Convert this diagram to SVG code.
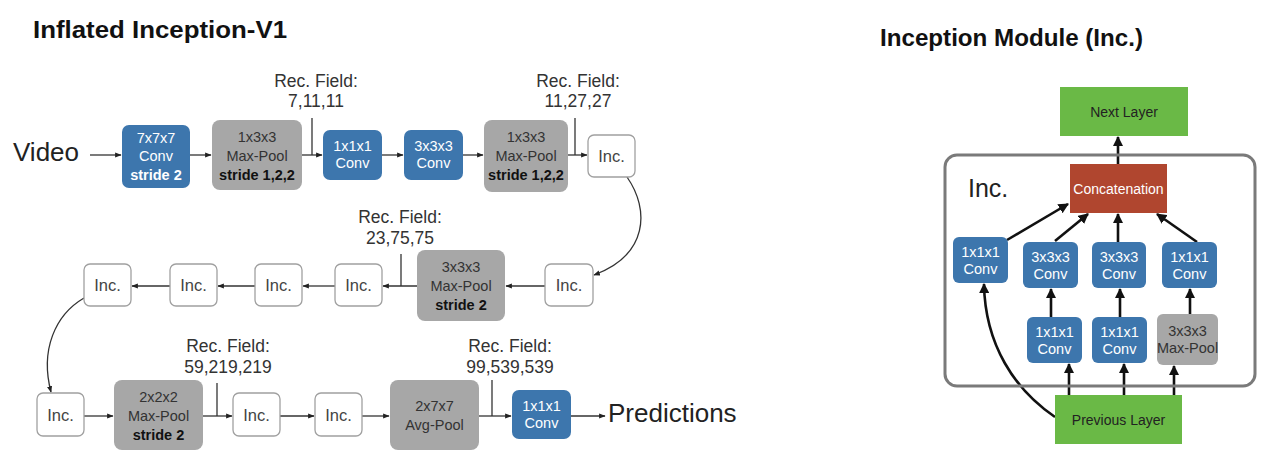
<svg xmlns="http://www.w3.org/2000/svg" width="1268" height="459" viewBox="0 0 1268 459">
<defs>
<marker id="ah" viewBox="0 0 10 10" refX="9" refY="5" markerWidth="5" markerHeight="5" orient="auto"><path d="M0,1 L10,5 L0,9 z" fill="#222"/></marker>
<marker id="ahb" viewBox="0 0 10 10" refX="9" refY="5" markerWidth="4" markerHeight="4" orient="auto"><path d="M0,0 L10,5 L0,10 z" fill="#111"/></marker>
<style>
.t{font-family:"Liberation Sans",Arial,sans-serif}
.conv{fill:#3d76ad}
.pool{fill:#a7a7a7}
.inc{fill:#fff;stroke:#a0a0a0;stroke-width:1.3}
.w{fill:#fff;font-size:14.5px}
.g{fill:#333;font-size:14.5px}
.b{fill:#111;font-size:14.5px;font-weight:bold}
.wb{fill:#fff;font-size:14.5px;font-weight:bold}
.i{fill:#444;font-size:16.5px}
.rf{fill:#333;font-size:17.5px}
.ln{stroke:#333;stroke-width:1.3;fill:none}
.ar{stroke:#333;stroke-width:1.3;fill:none;marker-end:url(#ah)}
.ab{stroke:#111;stroke-width:2.6;fill:none;marker-end:url(#ahb)}
.green{fill:#6ab946}
</style>
</defs>
<rect width="1268" height="459" fill="#fff"/>
<text class="t" x="33" y="38" font-size="24" font-weight="bold" fill="#111" textLength="254" lengthAdjust="spacingAndGlyphs">Inflated Inception-V1</text>
<text class="t" x="880" y="46" font-size="24" font-weight="bold" fill="#111" textLength="263" lengthAdjust="spacingAndGlyphs">Inception Module (Inc.)</text>

<!-- labels -->
<text class="t" x="13" y="161" font-size="26" fill="#222">Video</text>
<text class="t" x="608" y="422" font-size="26" fill="#222">Predictions</text>
<g class="t rf" text-anchor="middle">
<text x="316" y="87">Rec. Field:</text><text x="316" y="107">7,11,11</text>
<text x="578" y="87">Rec. Field:</text><text x="578" y="107">11,27,27</text>
<text x="400" y="223">Rec. Field:</text><text x="400" y="244">23,75,75</text>
<text x="228" y="352">Rec. Field:</text><text x="228" y="373">59,219,219</text>
<text x="510" y="352">Rec. Field:</text><text x="510" y="373">99,539,539</text>
</g>

<!-- connectors -->
<g id="connectors">
<path class="ar" d="M90,155 H121"/>
<path class="ar" d="M190,155 H211"/>
<path class="ar" d="M302,155 H322"/>
<path class="ln" d="M312,118 V155"/>
<path class="ar" d="M382,155 H403"/>
<path class="ar" d="M463,155 H483"/>
<path class="ar" d="M568,155 H587"/>
<path class="ln" d="M575,118 V155"/>
<path class="ar" d="M627,177 C650,210 648,255 594,275"/>
<path class="ar" d="M545,286 H506"/>
<path class="ar" d="M417,286 H383"/>
<path class="ln" d="M401,254 V286"/>
<path class="ar" d="M335,286 H303"/>
<path class="ar" d="M255,286 H218"/>
<path class="ar" d="M170,286 H132"/>
<path class="ar" d="M84,298 C55,315 40,350 51,392"/>
<path class="ar" d="M84,416 H113"/>
<path class="ar" d="M203,416 H232"/>
<path class="ln" d="M217,383 V416"/>
<path class="ar" d="M280,416 H314"/>
<path class="ar" d="M362,416 H389"/>
<path class="ar" d="M479,416 H511"/>
<path class="ln" d="M492,380 V416"/>
<path class="ar" d="M571,416 H605"/>
<!-- inception module -->
<path class="ab" d="M1118,164 V137"/>
<path class="ab" d="M1007,240 L1068,204"/>
<path class="ab" d="M1055,241 L1088,214"/>
<path class="ab" d="M1118,242 V214"/>
<path class="ab" d="M1197,242 L1157,214"/>
<path class="ab" d="M1051,317 V289"/>
<path class="ab" d="M1120,317 V289"/>
<path class="ab" d="M1190,314 V289"/>
<path class="ab" d="M1069,395 V364"/>
<path class="ab" d="M1124,395 V364"/>
<path class="ab" d="M1174,395 V366"/>
<path class="ab" d="M1055,417 C1015,390 985,345 984,284"/>
</g>

<!-- row 1 -->
<g id="conv7" class="t" text-anchor="middle"><rect class="conv" x="122" y="125" width="68" height="63" rx="7"/><text class="w" x="156" y="143">7x7x7</text><text class="w" x="156" y="161">Conv</text><text class="wb" x="156" y="180">stride 2</text></g>
<g id="pool1" class="t" text-anchor="middle"><rect class="pool" x="212" y="120" width="90" height="70" rx="8"/><text class="g" x="257" y="142">1x3x3</text><text class="g" x="257" y="161">Max-Pool</text><text class="b" x="257" y="180">stride 1,2,2</text></g>
<g id="conv1a" class="t" text-anchor="middle"><rect class="conv" x="323" y="130" width="59" height="50" rx="7"/><text class="w" x="352.5" y="151">1x1x1</text><text class="w" x="352.5" y="168">Conv</text></g>
<g id="conv3a" class="t" text-anchor="middle"><rect class="conv" x="404" y="130" width="59" height="50" rx="7"/><text class="w" x="433.5" y="151">3x3x3</text><text class="w" x="433.5" y="168">Conv</text></g>
<g id="pool2" class="t" text-anchor="middle"><rect class="pool" x="484" y="120" width="84" height="72" rx="8"/><text class="g" x="526" y="142">1x3x3</text><text class="g" x="526" y="161">Max-Pool</text><text class="b" x="526" y="180">stride 1,2,2</text></g>
<g id="inc1" class="t" text-anchor="middle"><rect class="inc" x="588" y="135" width="47" height="42" rx="6"/><text class="i" x="611.5" y="162">Inc.</text></g>

<!-- row 2 -->
<g id="inc2" class="t" text-anchor="middle"><rect class="inc" x="545" y="264" width="48" height="42" rx="6"/><text class="i" x="569" y="291">Inc.</text></g>
<g id="pool3" class="t" text-anchor="middle"><rect class="pool" x="417" y="250" width="88" height="71" rx="8"/><text class="g" x="461" y="272">3x3x3</text><text class="g" x="461" y="291">Max-Pool</text><text class="b" x="461" y="310">stride 2</text></g>
<g id="inc3" class="t" text-anchor="middle"><rect class="inc" x="335" y="264" width="47" height="42" rx="6"/><text class="i" x="358.5" y="291">Inc.</text></g>
<g id="inc4" class="t" text-anchor="middle"><rect class="inc" x="255" y="264" width="47" height="42" rx="6"/><text class="i" x="278.5" y="291">Inc.</text></g>
<g id="inc5" class="t" text-anchor="middle"><rect class="inc" x="170" y="264" width="47" height="42" rx="6"/><text class="i" x="193.5" y="291">Inc.</text></g>
<g id="inc6" class="t" text-anchor="middle"><rect class="inc" x="84" y="264" width="47" height="42" rx="6"/><text class="i" x="107.5" y="291">Inc.</text></g>

<!-- row 3 -->
<g id="inc7" class="t" text-anchor="middle"><rect class="inc" x="37" y="393" width="47" height="43" rx="6"/><text class="i" x="60.5" y="421">Inc.</text></g>
<g id="pool4" class="t" text-anchor="middle"><rect class="pool" x="114" y="380" width="89" height="70" rx="8"/><text class="g" x="158.5" y="402">2x2x2</text><text class="g" x="158.5" y="421">Max-Pool</text><text class="b" x="158.5" y="440">stride 2</text></g>
<g id="inc8" class="t" text-anchor="middle"><rect class="inc" x="233" y="393" width="47" height="43" rx="6"/><text class="i" x="256.5" y="421">Inc.</text></g>
<g id="inc9" class="t" text-anchor="middle"><rect class="inc" x="315" y="393" width="47" height="43" rx="6"/><text class="i" x="338.5" y="421">Inc.</text></g>
<g id="avgpool" class="t" text-anchor="middle"><rect class="pool" x="390" y="380" width="89" height="70" rx="8"/><text class="g" x="434.5" y="411">2x7x7</text><text class="g" x="434.5" y="430">Avg-Pool</text></g>
<g id="conv1b" class="t" text-anchor="middle"><rect class="conv" x="512" y="390" width="59" height="49" rx="7"/><text class="w" x="541.5" y="411">1x1x1</text><text class="w" x="541.5" y="428">Conv</text></g>

<!-- inception module -->
<g id="module" class="t"><rect x="945" y="155" width="310" height="231" rx="12" fill="none" stroke="#7a7a7a" stroke-width="3"/><text x="968" y="197" font-size="25" fill="#222">Inc.</text></g>
<g id="nextlayer" class="t" text-anchor="middle"><rect class="green" x="1060" y="87" width="128" height="49"/><text x="1124" y="117" font-size="14" fill="#222">Next Layer</text></g>
<g id="concat" class="t" text-anchor="middle"><rect x="1070" y="164" width="97" height="49" fill="#b0462f"/><text x="1118.5" y="194" font-size="14" fill="#fff">Concatenation</text></g>
<g id="b1" class="t" text-anchor="middle"><rect class="conv" x="953" y="237" width="55" height="46" rx="6"/><text class="w" x="980.5" y="257">1x1x1</text><text class="w" x="980.5" y="274">Conv</text></g>
<g id="b2" class="t" text-anchor="middle"><rect class="conv" x="1023" y="242" width="55" height="46" rx="6"/><text class="w" x="1050.5" y="262">3x3x3</text><text class="w" x="1050.5" y="279">Conv</text></g>
<g id="b3" class="t" text-anchor="middle"><rect class="conv" x="1092" y="242" width="54" height="46" rx="6"/><text class="w" x="1119" y="262">3x3x3</text><text class="w" x="1119" y="279">Conv</text></g>
<g id="b4" class="t" text-anchor="middle"><rect class="conv" x="1162" y="242" width="55" height="46" rx="6"/><text class="w" x="1189.5" y="262">1x1x1</text><text class="w" x="1189.5" y="279">Conv</text></g>
<g id="b5" class="t" text-anchor="middle"><rect class="conv" x="1027" y="317" width="55" height="46" rx="6"/><text class="w" x="1054.5" y="337">1x1x1</text><text class="w" x="1054.5" y="354">Conv</text></g>
<g id="b6" class="t" text-anchor="middle"><rect class="conv" x="1092" y="317" width="55" height="46" rx="6"/><text class="w" x="1119.5" y="337">1x1x1</text><text class="w" x="1119.5" y="354">Conv</text></g>
<g id="b7" class="t" text-anchor="middle"><rect class="pool" x="1157" y="314" width="61" height="51" rx="6"/><text class="g" x="1187.5" y="336">3x3x3</text><text class="g" x="1187.5" y="353">Max-Pool</text></g>
<g id="prevlayer" class="t" text-anchor="middle"><rect class="green" x="1055" y="395" width="127" height="49"/><text x="1118.5" y="425" font-size="14" fill="#222">Previous Layer</text></g>
</svg>
